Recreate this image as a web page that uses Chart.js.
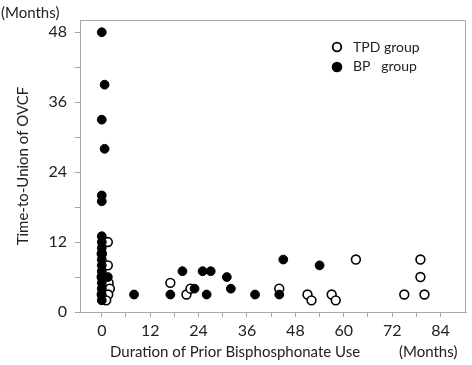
<!DOCTYPE html>
<html>
<head>
<meta charset="utf-8">
<script src="https://cdn.jsdelivr.net/npm/chart.js@4/dist/chart.umd.min.js"></script>
<style>
  body { margin: 0; background: #fff; }
  #wrap { width: 472px; height: 365px; }
</style>
</head>
<body>
<div id="wrap"><canvas id="scatterChart" width="472" height="365"></canvas></div>
<script>
// Données (mois)
const tpdX = [0, 0, 0, 1.5, 1.5, 1.7, 2, 1.6, 1.1, 17, 21, 22, 44, 51, 52, 57, 58, 63, 75, 79, 79, 80];
const tpdY = [10, 6, 3, 12, 8, 5, 4, 3, 2, 5, 3, 4, 4, 3, 2, 3, 2, 9, 3, 9, 6, 3];

const bpX = [0, 0, 0, 0, 0, 0, 0, 0, 0, 0, 0, 0, 0, 0, 0, 0.7, 0.7, 0, 1.5, 8,
  17, 20, 23, 25, 26, 27, 31, 32, 38, 44, 45, 54];
const bpY = [2, 3, 4, 5, 6, 7, 8, 9, 10, 11, 12, 13, 19, 20, 33, 28, 39, 48, 6, 3,
  3, 7, 4, 7, 3, 7, 6, 4, 3, 3, 9, 8];

const xTicks = [0, 6, 12, 18, 24, 30, 36, 42, 48, 54, 60, 66, 72, 78, 84];
const yTicks = [0, 6, 12, 18, 24, 30, 36, 42, 48];
const xLabels = [0, 12, 24, 36, 48, 60, 72, 84];
const yLabels = [0, 12, 24, 36, 48];

const seriesNames = ["TPD group", "BP   group"];

const toPoints = (xs, ys) => xs.map((x, i) => ({ x: x, y: ys[i] }));

const axisColor = "#a6a6a6";
const textColor = "#222";
const fontFamily = "Lato, 'Open Sans', sans-serif";

// Plugin pour le cadre, la légende et les titres des axes
const decorPlugin = {
  id: "decor",
  afterDraw(chart) {
    const ctx = chart.ctx;
    const area = chart.chartArea;
    ctx.save();
    // cadre haut et droite
    ctx.strokeStyle = axisColor;
    ctx.lineWidth = 1;
    ctx.beginPath();
    ctx.moveTo(area.left, area.top + 0.5);
    ctx.lineTo(area.right - 0.5, area.top + 0.5);
    ctx.lineTo(area.right - 0.5, area.bottom);
    ctx.stroke();

    // légende
    ctx.fillStyle = textColor;
    ctx.font = "14px " + fontFamily;
    ctx.textBaseline = "middle";
    ctx.textAlign = "left";
    ctx.beginPath();
    ctx.arc(337, 47, 4.3, 0, Math.PI * 2);
    ctx.fillStyle = "#fff";
    ctx.fill();
    ctx.lineWidth = 1.8;
    ctx.strokeStyle = "#000";
    ctx.stroke();
    ctx.beginPath();
    ctx.arc(337, 67, 5.3, 0, Math.PI * 2);
    ctx.fillStyle = "#000";
    ctx.fill();
    ctx.fillStyle = textColor;
    ctx.fillText(seriesNames[0], 353, 47);
    ctx.fillText(seriesNames[1], 353, 66);

    // titres
    ctx.font = "15px " + fontFamily;
    ctx.fillText("(Months)", 1, 13);
    ctx.fillText("Duration of Prior Bisphosphonate Use", 110, 352);
    ctx.fillText("(Months)", 399, 352);
    ctx.translate(23, 166);
    ctx.rotate(-Math.PI / 2);
    ctx.textAlign = "center";
    ctx.fillText("Time-to-Union of OVCF", 0, 0);
    ctx.restore();
  }
};

const ctx = document.getElementById("scatterChart").getContext("2d");

const config = {
  type: "scatter",
  data: {
    datasets: [
      {
        label: seriesNames[0],
        data: toPoints(tpdX, tpdY),
        backgroundColor: "#fff",
        borderColor: "#000",
        borderWidth: 1.6,
        pointRadius: 4.4,
        order: 1
      },
      {
        label: seriesNames[1],
        data: toPoints(bpX, bpY),
        backgroundColor: "#000",
        borderColor: "#000",
        borderWidth: 1,
        pointRadius: 4.4,
        order: 0
      }
    ]
  },
  options: {
    responsive: false,
    animation: false,
    layout: { padding: { left: 0, right: 4, top: 20, bottom: 0 } },
    plugins: {
      legend: { display: false },
      tooltip: { enabled: false }
    },
    scales: {
      x: {
        type: "linear",
        min: -5.4,
        max: 90.3,
        afterBuildTicks: (axis) => { axis.ticks = xTicks.map((v) => ({ value: v })); },
        afterFit: (axis) => { axis.height = 53; },
        ticks: {
          autoSkip: false,
          maxRotation: 0,
          padding: 4,
          color: textColor,
          font: { family: fontFamily, size: 16 },
          callback: (v) => (xLabels.includes(v) ? String(v) : "")
        },
        grid: { drawOnChartArea: false, tickLength: 5, color: axisColor },
        border: { color: axisColor, width: 1 }
      },
      y: {
        type: "linear",
        min: 0,
        max: 50.1,
        afterBuildTicks: (axis) => { axis.ticks = yTicks.map((v) => ({ value: v })); },
        afterFit: (axis) => { axis.width = 80; },
        ticks: {
          autoSkip: false,
          padding: 8,
          color: textColor,
          font: { family: fontFamily, size: 16 },
          callback: (v) => (yLabels.includes(v) ? String(v) : "")
        },
        grid: { drawOnChartArea: false, tickLength: 5, color: axisColor },
        border: { color: axisColor, width: 1 }
      }
    }
  },
  plugins: [decorPlugin]
};

const myChart = new Chart(ctx, config);
</script>
</body>
</html>
